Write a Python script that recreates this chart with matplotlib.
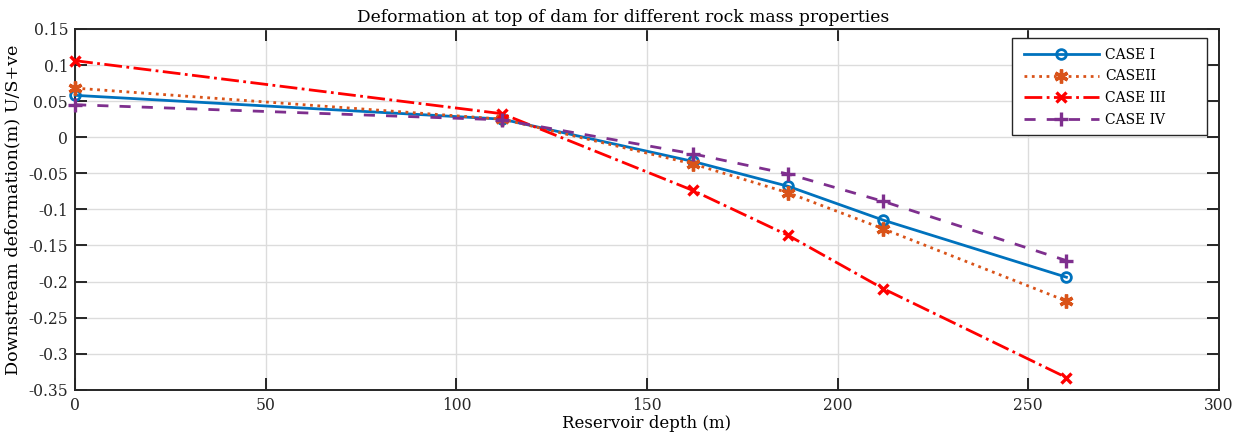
import matplotlib
matplotlib.use("Agg")
import matplotlib.pyplot as plt
from matplotlib.patches import Rectangle
import numpy as np

plt.rcParams['font.family'] = ['DejaVu Serif']

depth = [0, 112, 162, 187, 212, 260]
case1 = [0.058, 0.025, -0.0335, -0.068, -0.115, -0.194]
case2 = [0.068, 0.025, -0.037, -0.077, -0.127, -0.227]
case3 = [0.106, 0.0325, -0.0737, -0.136, -0.210, -0.333]
case4 = [0.045, 0.024, -0.023, -0.051, -0.089, -0.171]
labels = ['CASE I', 'CASEII', 'CASE III', 'CASE IV']

fig = plt.figure(figsize=(12.52, 4.45), dpi=100)
ax = fig.add_axes([0.06, 0.124, 0.9136, 0.811])

ax.plot(depth, case1, color='#0072BD', lw=2, ls='-', marker='o', ms=7,
        mfc='none', mew=2, label=labels[0], clip_on=False, zorder=3)
ax.plot(depth, case2, color='#D95319', lw=2, ls=':', marker=(6, 2, 0), ms=10,
        mew=2.4, label=labels[1], clip_on=False, zorder=3)
ax.plot(depth, case3, color='#FF0000', lw=2, ls='-.', marker='x', ms=7.5,
        mew=2.4, label=labels[2], clip_on=False, zorder=3)
ax.plot(depth, case4, color='#7E2F8E', lw=2, ls='--', dashes=(4, 4), marker='+', ms=9.5,
        mew=2.4, label=labels[3], clip_on=False, zorder=3)

ax.set_xlim(0, 300)
ax.set_ylim(-0.35, 0.15)
ax.set_xticks(np.arange(0, 301, 50))
yt = np.arange(-0.35, 0.151, 0.05)
ax.set_yticks(yt)
ax.set_yticklabels(['0' if abs(v) < 1e-9 else ('%g' % round(v, 2)) for v in yt])
ax.grid(True, color='#DCDCDC', lw=1)
ax.set_axisbelow(True)
ax.tick_params(direction='in', top=True, right=True, labelsize=11.2, length=8.5, width=1.4,
               colors='#262626', pad=5)
for s in ax.spines.values():
    s.set_color('#262626')
    s.set_linewidth(1.4)

ax.set_title('Deformation at top of dam for different rock mass properties', fontsize=12.3,
             x=0.479, pad=5)
ax.set_xlabel('Reservoir depth (m)', fontsize=12, labelpad=1)
ax.set_ylabel('Downstream deformation(m) U/S+ve', fontsize=12.6, labelpad=5)

# legend box
ax.add_patch(Rectangle((0.819, 0.706), 0.1705, 0.269, transform=ax.transAxes,
                       facecolor='white', edgecolor='#262626', lw=1.0, zorder=4))
leg = ax.legend(loc='upper left', bbox_to_anchor=(0.8295, 0.948), fontsize=10,
                frameon=False, handlelength=5.4, handletextpad=0.45,
                borderpad=0, borderaxespad=0, labelspacing=0.56)
leg.set_zorder(5)

fig.savefig('out.png', dpi=100)
